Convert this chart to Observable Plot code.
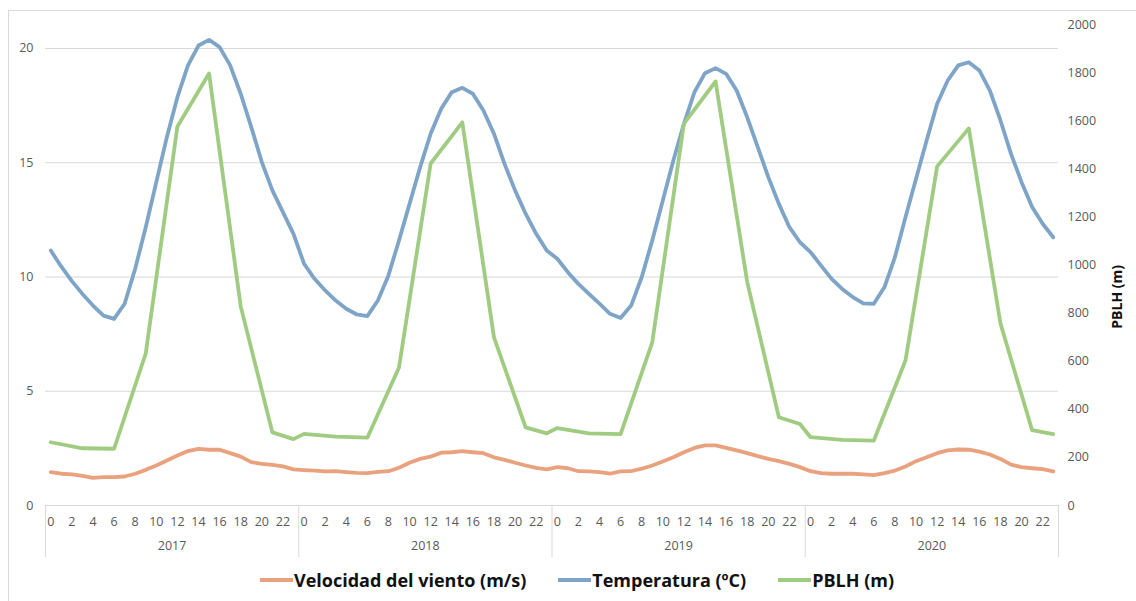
<!DOCTYPE html>
<html><head><meta charset="utf-8">
<script src="https://cdn.jsdelivr.net/npm/d3@7"></script>
<script src="https://cdn.jsdelivr.net/npm/@observablehq/plot@0.6"></script>
<style>
body{margin:0;background:#fff;font-family:"Open Sans",sans-serif;}
#wrap{position:relative;width:1136px;height:601px;overflow:hidden;background:#fff;}
#frame{position:absolute;left:8px;top:10px;width:1200px;height:700px;border:1px solid #d9d9d9;}
#chart{position:absolute;left:0;top:0;}
#legend{position:absolute;top:565px;left:0;width:1136px;height:30px;box-sizing:border-box;padding-left:18px;display:flex;justify-content:center;align-items:center;gap:32px;font-weight:bold;font-size:18px;color:#111;}
.item{display:flex;align-items:center;}
.sw{display:inline-block;width:33px;height:4px;margin-right:1px;}
</style></head>
<body><div id="wrap"><div id="frame"></div><div id="chart"></div><div id="legend"></div></div>
<script>
const years = ["2017","2018","2019","2020"];
const hourLabels = [0,2,4,6,8,10,12,14,16,18,20,22];
const pblhTicks = [0,200,400,600,800,1000,1200,1400,1600,1800,2000];
const leftTicks = [0,5,10,15,20];

// Velocidad del viento (m/s), hours 0..23 per year
const wind2017 = [1.46,1.39,1.36,1.30,1.21,1.24,1.24,1.27,1.39,1.56,1.75,1.97,2.19,2.38,2.48,2.44,2.44,2.29,2.14,1.90,1.82,1.78,1.71,1.58];
const wind2018 = [1.55,1.53,1.49,1.50,1.46,1.43,1.42,1.47,1.50,1.65,1.87,2.04,2.14,2.31,2.33,2.38,2.33,2.29,2.11,2.00,1.87,1.75,1.65,1.58];
const wind2019 = [1.68,1.63,1.50,1.49,1.46,1.39,1.49,1.50,1.61,1.75,1.93,2.11,2.33,2.52,2.63,2.63,2.52,2.41,2.29,2.16,2.04,1.94,1.82,1.68];
const wind2020 = [1.50,1.42,1.39,1.39,1.39,1.36,1.33,1.42,1.53,1.71,1.94,2.11,2.29,2.41,2.45,2.44,2.36,2.23,2.04,1.79,1.68,1.63,1.59,1.49];

// Temperatura (ºC), hours 0..23 per year
const temp2017 = [11.16,10.45,9.82,9.26,8.75,8.31,8.17,8.83,10.36,12.18,14.15,16.12,17.87,19.26,20.13,20.38,20.06,19.26,18.02,16.56,15.03,13.79,12.84,11.89];
const temp2018 = [10.58,9.92,9.41,8.97,8.61,8.36,8.29,8.97,10.07,11.60,13.20,14.80,16.27,17.36,18.09,18.28,18.02,17.29,16.27,14.95,13.79,12.77,11.89,11.16];
const temp2019 = [10.80,10.21,9.70,9.26,8.83,8.39,8.21,8.75,9.99,11.60,13.35,15.10,16.70,18.09,18.92,19.14,18.89,18.16,16.99,15.68,14.37,13.20,12.18,11.52];
const temp2020 = [11.09,10.50,9.92,9.48,9.12,8.85,8.83,9.55,10.87,12.62,14.30,15.97,17.58,18.60,19.26,19.40,19.04,18.16,16.85,15.39,14.15,13.06,12.33,11.74];

// PBLH (m), only at these hours
const pblhHours = [0,3,6,9,12,15,18,21,23];
const pblh2017 = [263,238,236,632,1576,1796,828,304,276];
const pblh2018 = [298,286,282,574,1422,1593,699,325,300];
const pblh2019 = [322,300,297,678,1588,1763,929,367,339];
const pblh2020 = [284,273,270,603,1410,1568,757,313,297];

const windByYear = [wind2017,wind2018,wind2019,wind2020];
const tempByYear = [temp2017,temp2018,temp2019,temp2020];
const pblhByYear = [pblh2017,pblh2018,pblh2019,pblh2020];

const cWind = "#e9a27d", cTemp = "#7ea4c7", cPblh = "#a0cc82";
const yMax = 21.05, k = yMax / 2000;

const hourly = [];
years.forEach((y, yi) => {
  for (let h = 0; h < 24; h++) hourly.push({pos: yi*24 + h + 0.5, wind: windByYear[yi][h], temp: tempByYear[yi][h]});
});
const pblhRows = [];
years.forEach((y, yi) => {
  pblhHours.forEach((h, j) => pblhRows.push({pos: yi*24 + h + 0.5, v: pblhByYear[yi][j] * k}));
});
const hourTickPos = [];
years.forEach((y, yi) => hourLabels.forEach(h => hourTickPos.push(yi*24 + h + 0.5)));
const yearPos = years.map((y, yi) => yi*24 + 12);
const sepPos = [0,24,48,72,96];

const plot = Plot.plot({
  width: 1136, height: 562,
  marginLeft: 45, marginRight: 78, marginTop: 24, marginBottom: 57,
  x: {domain: [0, 96], axis: null},
  y: {domain: [0, yMax], axis: null},
  style: {fontFamily: "Open Sans", fontSize: "12.5px", color: "#595959", background: "transparent"},
  marks: [
    Plot.ruleY([5,10,15,20], {stroke: "#d9d9d9", strokeWidth: 1}),
    Plot.ruleY([0], {stroke: "#d9d9d9", strokeWidth: 1}),
    Plot.axisY(leftTicks, {tickSize: 0, tickPadding: 12, label: null}),
    Plot.axisY(pblhTicks.map(v => v * k), {anchor: "right", tickSize: 0, tickPadding: 9, label: null, tickFormat: d => String(Math.round(d / k))}),
    Plot.axisX(hourTickPos, {tickSize: 0, tickPadding: 12, label: null, tickFormat: d => String(Math.round(d - 0.5) % 24)}),
    Plot.axisX(yearPos, {tickSize: 0, tickPadding: 36, label: null, tickFormat: d => years[Math.floor(d / 24)]}),
    Plot.axisX(sepPos, {tickSize: 52, label: null, tickFormat: () => "", stroke: "#d9d9d9"}),
    Plot.text(["PBLH (m)"], {frameAnchor: "right", dx: 59, rotate: -90, fontWeight: "bold", fill: "#111", fontSize: 14}),
    Plot.line(hourly, {x: "pos", y: "wind", stroke: cWind, strokeWidth: 3.8}),
    Plot.line(hourly, {x: "pos", y: "temp", stroke: cTemp, strokeWidth: 3.8}),
    Plot.line(pblhRows, {x: "pos", y: "v", stroke: cPblh, strokeWidth: 3.8})
  ]
});
document.getElementById("chart").appendChild(plot);

const legend = document.getElementById("legend");
[["Velocidad del viento (m/s)", cWind], ["Temperatura (ºC)", cTemp], ["PBLH (m)", cPblh]].forEach(([t, c]) => {
  const it = document.createElement("div"); it.className = "item";
  const sw = document.createElement("span"); sw.className = "sw"; sw.style.background = c;
  const tx = document.createElement("span"); tx.textContent = t;
  it.appendChild(sw); it.appendChild(tx); legend.appendChild(it);
});
</script></body></html>
